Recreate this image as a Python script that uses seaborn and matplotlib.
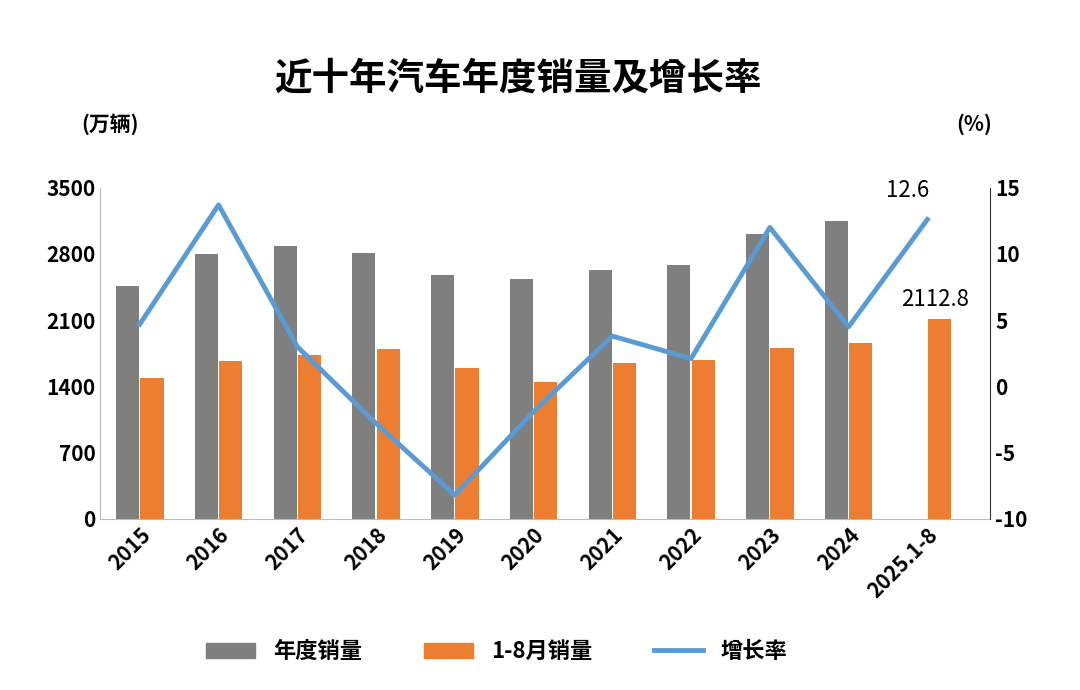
import matplotlib
matplotlib.use("Agg")
import matplotlib.pyplot as plt
import seaborn as sns
import pandas as pd
import numpy as np
from matplotlib import font_manager

names = {f.name for f in font_manager.fontManager.ttflist}
cjk = [n for n in ["Noto Sans CJK SC", "Noto Sans CJK JP", "Noto Sans CJK TC", "Noto Sans CJK KR", "Noto Sans SC"] if n in names]
plt.rcParams["font.family"] = "sans-serif"
plt.rcParams["font.sans-serif"] = cjk + ["DejaVu Sans"]
plt.rcParams["axes.unicode_minus"] = False

years = ["2015","2016","2017","2018","2019","2020","2021","2022","2023","2024","2025.1-8"]
annual = [2460, 2803, 2888, 2808, 2577, 2531, 2628, 2686, 3009, 3144, np.nan]
jan_aug = [1490, 1670, 1735, 1800, 1597, 1450, 1650, 1680, 1810, 1860, 2112.8]
growth = [4.7, 13.7, 3.0, -2.8, -8.2, -1.9, 3.8, 2.1, 12.0, 4.5, 12.6]

df = pd.DataFrame({"year": years*2,
                   "val": annual + jan_aug,
                   "series": ["年度销量"]*len(years) + ["1-8月销量"]*len(years)})

fig, ax = plt.subplots(figsize=(10.8, 6.9), dpi=100)
fig.subplots_adjust(left=0.093, right=0.917, top=0.728, bottom=0.248)
sns.barplot(data=df, x="year", y="val", hue="series", palette=["#7f7f7f", "#ed7d31"],
            saturation=1, width=0.62, gap=0.05, ax=ax, legend=False)
ax.set_ylim(0, 3500)
ax.set_xlim(-0.5, 10.8)
ax.set_yticks(range(0, 3501, 700))
ax.set_xlabel(""); ax.set_ylabel("")
for s in ["top", "right"]:
    ax.spines[s].set_visible(False)
ax.spines["left"].set_color("#bbbbbb"); ax.spines["bottom"].set_color("#bbbbbb")
ax.tick_params(axis="both", labelsize=15, length=0)
for t in ax.get_yticklabels(): t.set_fontweight("bold")
ax.set_xticks(range(len(years)))
ax.set_xticklabels(years, rotation=45, ha="right", rotation_mode="anchor", fontweight="bold")

ax2 = ax.twinx()
sns.lineplot(x=np.arange(len(years)), y=growth, ax=ax2, color="#5b9bd5", lw=3.5)
ax2.set_xlim(-0.5, 10.8)
ax2.set_ylim(-10, 15)
ax2.set_yticks(range(-10, 16, 5))
ax2.tick_params(axis="y", labelsize=15, length=0)
for t in ax2.get_yticklabels(): t.set_fontweight("bold")
for s in ["top", "left", "bottom"]:
    ax2.spines[s].set_visible(False)
ax2.spines["right"].set_color("#333333")

ax.text(10.1, 2112.8 + 80, "2112.8", ha="center", va="bottom", fontsize=16)
ax2.text(9.75, 13.9, "12.6", ha="center", va="bottom", fontsize=16)

fig.text(0.48, 0.87, "近十年汽车年度销量及增长率", ha="center", fontsize=27, fontweight="bold")
fig.text(0.075, 0.81, "(万辆)", fontsize=15, fontweight="bold")
fig.text(0.885, 0.81, "(%)", fontsize=15, fontweight="bold")

from matplotlib.patches import Patch
from matplotlib.lines import Line2D
handles = [Patch(color="#7f7f7f"), Patch(color="#ed7d31"), Line2D([], [], color="#5b9bd5", lw=3.5)]
fig.legend(handles, ["年度销量", "1-8月销量", "增长率"], loc="lower center", ncol=3,
           bbox_to_anchor=(0.46, 0.01), frameon=False, columnspacing=2.8,
           handlelength=2.2, prop={"weight": "bold", "size": 16})
fig.savefig("out.png", dpi=100)
